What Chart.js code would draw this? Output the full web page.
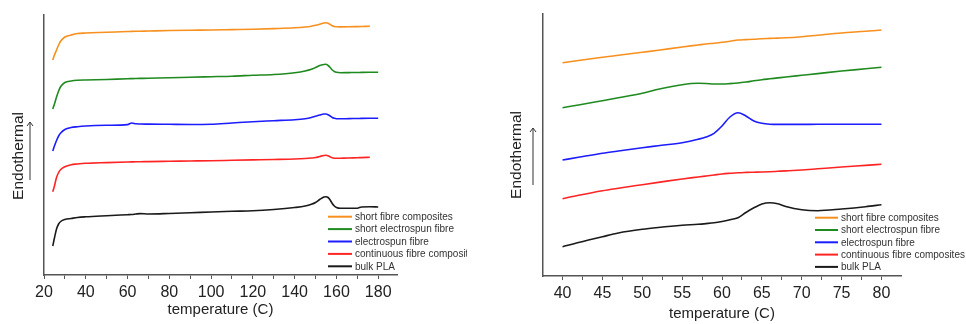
<!DOCTYPE html>
<html>
<head>
<meta charset="utf-8">
<script src="https://cdn.jsdelivr.net/npm/chart.js@4.4.0/dist/chart.umd.min.js"></script>
<style>
  body { margin: 0; background: #fff; }
  #wrap { position: relative; width: 966px; height: 324px; overflow: hidden; }
  canvas { position: absolute; top: 0; }
  #leftChart { left: 0; }
  #rightChart { left: 480px; }
</style>
</head>
<body>
<div id="wrap">
  <canvas id="leftChart" width="467" height="324"></canvas>
  <canvas id="rightChart" width="486" height="324"></canvas>
</div>
<script>
// series names, same order in both panels (top curve first)
const seriesNames = ['short fibre composites', 'short electrospun fibre', 'electrospun fibre', 'continuous fibre composites', 'bulk PLA'];
const seriesColors = ['#f7901e', '#1f8a1f', '#1c1cff', '#ff2424', '#1a1a1a'];

// left panel: full scan, temperature (C)
const tempLeft = [24.2, 25, 26, 27, 28, 30, 33, 36, 40, 50, 60, 62, 64, 66, 70, 80, 90, 100, 110, 120, 130, 140, 145, 148, 150, 152, 154, 155, 156, 157, 158, 159, 160, 162, 166, 170, 172, 176, 180];
const shortFibreL = [21.5, 22.0, 22.5, 23.0, 23.4, 23.8, 24.0, 24.15, 24.2, 24.27, 24.35, 24.36, 24.37, 24.38, 24.4, 24.45, 24.48, 24.5, 24.54, 24.58, 24.64, 24.72, 24.8, 24.88, 24.97, 25.08, 25.2, 25.23, 25.18, 25.05, 24.92, 24.85, 24.82, 24.81, 24.82, 24.84, 24.85, 24.87, null];
const shortSpunL = [16.6, 17.1, 17.8, 18.4, 18.85, 19.25, 19.4, 19.47, 19.5, 19.55, 19.63, 19.64, 19.65, 19.66, 19.68, 19.72, 19.78, 19.83, 19.88, 19.97, 20.05, 20.23, 20.4, 20.57, 20.75, 20.95, 21.05, 21.07, 20.95, 20.75, 20.5, 20.35, 20.27, 20.23, 20.24, 20.25, 20.26, 20.27, 20.27];
const spunL = [12.4, 12.9, 13.45, 13.9, 14.2, 14.55, 14.75, 14.83, 14.9, 14.97, 15.04, 15.2, 15.12, 15.1, 15.09, 15.07, 15.05, 15.07, 15.2, 15.33, 15.43, 15.53, 15.63, 15.75, 15.87, 16.0, 16.1, 16.1, 16.02, 15.9, 15.75, 15.67, 15.63, 15.62, 15.64, 15.65, 15.66, 15.67, 15.67];
const continuousL = [8.33, 8.9, 9.75, 10.25, 10.55, 10.83, 11.03, 11.1, 11.17, 11.24, 11.3, 11.31, 11.32, 11.33, 11.34, 11.37, 11.4, 11.43, 11.47, 11.51, 11.55, 11.6, 11.65, 11.7, 11.75, 11.85, 11.95, 11.97, 11.92, 11.82, 11.72, 11.68, 11.67, 11.68, 11.7, 11.73, 11.74, 11.77, null];
const bulkL = [2.9, 3.7, 4.6, 5.1, 5.35, 5.55, 5.65, 5.75, 5.82, 5.93, 6.03, 6.05, 6.1, 6.14, 6.1, 6.15, 6.22, 6.3, 6.37, 6.42, 6.55, 6.75, 6.9, 7.07, 7.25, 7.55, 7.8, 7.83, 7.75, 7.5, 7.15, 6.9, 6.75, 6.67, 6.67, 6.68, 6.8, 6.82, 6.8];

// right panel: zoom on 40-80 C
const tempRight = [40, 42, 45, 47, 50, 52, 55, 57, 58, 59, 60, 61, 62, 63, 64, 65, 66, 67, 68, 70, 72, 75, 78, 80];
const shortFibreR = [21.33, 21.55, 21.87, 22.07, 22.37, 22.57, 22.9, 23.1, 23.2, 23.28, 23.37, 23.48, 23.6, 23.64, 23.68, 23.73, 23.76, 23.79, 23.82, 23.93, 24.08, 24.3, 24.47, 24.6];
const shortSpunR = [16.83, 17.1, 17.53, 17.82, 18.27, 18.67, 19.13, 19.27, 19.25, 19.2, 19.2, 19.24, 19.3, 19.4, 19.52, 19.63, 19.72, 19.81, 19.9, 20.07, 20.24, 20.5, 20.72, 20.87];
const spunR = [11.6, 11.87, 12.27, 12.5, 12.83, 13.03, 13.33, 13.67, 13.9, 14.27, 15.0, 15.9, 16.33, 16.0, 15.5, 15.27, 15.18, 15.16, 15.16, 15.16, 15.17, 15.17, 15.17, 15.17];
const continuousR = [7.73, 8.07, 8.53, 8.78, 9.13, 9.36, 9.7, 9.9, 10.0, 10.1, 10.2, 10.27, 10.33, 10.36, 10.38, 10.4, 10.43, 10.47, 10.51, 10.6, 10.72, 10.9, 11.06, 11.17];
const bulkR = [2.93, 3.35, 3.93, 4.3, 4.67, 4.85, 5.07, 5.17, 5.24, 5.32, 5.45, 5.62, 5.82, 6.35, 6.82, 7.2, 7.33, 7.22, 6.95, 6.62, 6.53, 6.7, 6.93, 7.13];

const axisColor = '#555';
const textColor = '#222';

function pairs(xs, ys) {
    return xs.map((x, i) => ({ x: x, y: ys[i] }));
}

function makeSets(xs, lists) {
    return lists.map((ys, i) => ({
        label: seriesNames[i],
        data: pairs(xs, ys),
        borderColor: seriesColors[i],
        borderWidth: 1.6,
        pointRadius: 0,
        fill: false,
        cubicInterpolationMode: 'monotone',
        spanGaps: false
    }));
}

// draws the "Endothermal" title with its arrow and the legend inside the plot
const decorations = {
    id: 'decorations',
    afterDraw(chart, args, opts) {
        const ctx = chart.ctx;
        const area = chart.chartArea;
        ctx.save();
        // y title
        ctx.translate(opts.titleX, opts.titleY);
        ctx.rotate(-Math.PI / 2);
        ctx.font = '15.5px "Liberation Sans", Arial, sans-serif';
        ctx.fillStyle = textColor;
        ctx.textAlign = 'center';
        ctx.textBaseline = 'middle';
        ctx.fillText('Endothermal', 0, 0);
        ctx.restore();

        // arrow
        ctx.save();
        ctx.strokeStyle = '#333';
        ctx.lineWidth = 1;
        ctx.beginPath();
        ctx.moveTo(opts.arrowX, opts.arrowBottom);
        ctx.lineTo(opts.arrowX, opts.arrowTop);
        ctx.moveTo(opts.arrowX - 3, opts.arrowTop + 4);
        ctx.lineTo(opts.arrowX, opts.arrowTop);
        ctx.lineTo(opts.arrowX + 3, opts.arrowTop + 4);
        ctx.stroke();
        ctx.restore();

        // legend
        ctx.save();
        ctx.font = '10px "Liberation Sans", Arial, sans-serif';
        ctx.textBaseline = 'middle';
        ctx.textAlign = 'left';
        chart.data.datasets.forEach((ds, i) => {
            const y = area.bottom - opts.legendUp + i * opts.legendStep;
            const x0 = area.left + opts.legendX;
            ctx.strokeStyle = ds.borderColor;
            ctx.lineWidth = 2;
            ctx.beginPath();
            ctx.moveTo(x0, y);
            ctx.lineTo(x0 + opts.legendLine, y);
            ctx.stroke();
            ctx.fillStyle = '#333';
            ctx.fillText(ds.label, x0 + opts.legendLine + 3, y + 0.5);
        });
        ctx.restore();
    }
};

function buildChart(id, sets, xMin, xMax, xStep, labelStep, yMax, layout, deco) {
    return new Chart(document.getElementById(id), {
        type: 'line',
        data: { datasets: sets },
        options: {
            responsive: false,
            animation: false,
            layout: { padding: { left: 0, top: layout.top, right: layout.right, bottom: 0 } },
            plugins: {
                legend: { display: false },
                tooltip: { enabled: false },
                decorations: deco
            },
            scales: {
                x: {
                    type: 'linear',
                    min: xMin,
                    max: xMax,
                    afterFit: s => { s.height = layout.xHeight; },
                    border: { display: true, color: axisColor, width: 1.5 },
                    grid: { drawOnChartArea: false, drawTicks: true, tickLength: 4, color: axisColor, lineWidth: 1 },
                    ticks: {
                        stepSize: xStep,
                        includeBounds: false,
                        autoSkip: false,
                        maxRotation: 0,
                        padding: 4,
                        color: textColor,
                        font: { family: '"Liberation Sans", Arial, sans-serif', size: 16 },
                        callback: v => (Math.round(v * 100) % Math.round(labelStep * 100) === 0 ? String(v) : '')
                    },
                    title: {
                        display: true,
                        text: 'temperature (C)',
                        color: textColor,
                        font: { family: '"Liberation Sans", Arial, sans-serif', size: 15 },
                        padding: { top: 0, bottom: layout.titlePad }
                    }
                },
                y: {
                    min: 0,
                    max: yMax,
                    afterFit: s => { s.width = layout.yWidth; },
                    border: { display: true, color: axisColor, width: 1.5 },
                    grid: { display: false },
                    ticks: { display: false }
                }
            }
        },
        plugins: [decorations]
    });
}

buildChart('leftChart',
    makeSets(tempLeft, [shortFibreL, shortSpunL, spunL, continuousL, bulkL]),
    20, 189, 10, 20, 26,
    { top: 15, right: 70, xHeight: 49, yWidth: 44, titlePad: 5 },
    { titleX: 19, titleY: 156, arrowX: 30, arrowTop: 122, arrowBottom: 180,
      legendX: 284, legendLine: 24, legendUp: 58.3, legendStep: 12.4 });

buildChart('rightChart',
    makeSets(tempRight, [shortFibreR, shortSpunR, spunR, continuousR, bulkR]),
    37.55, 82.45, 2.5, 5, 26.2,
    { top: 14, right: 65, xHeight: 48, yWidth: 63, titlePad: 1 },
    { titleX: 37, titleY: 155, arrowX: 53, arrowTop: 128, arrowBottom: 185,
      legendX: 272, legendLine: 23, legendUp: 58.3, legendStep: 12.3 });
</script>
</body>
</html>
